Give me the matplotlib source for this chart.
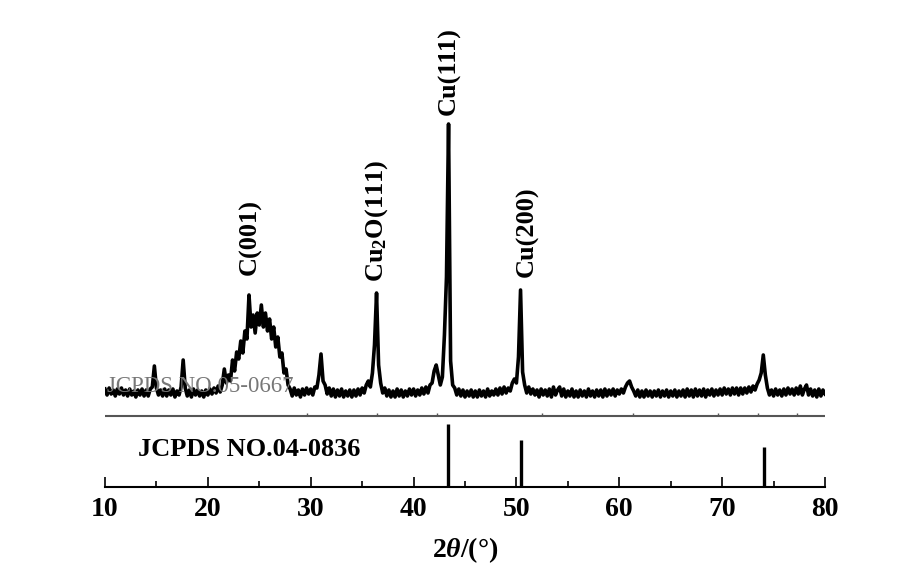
import numpy as np
import matplotlib
matplotlib.use('Agg')
import matplotlib.pyplot as plt
from matplotlib.ticker import MultipleLocator

plt.rcParams['font.family'] = ['Liberation Serif', 'DejaVu Serif']
plt.rcParams['mathtext.fontset'] = 'custom'
plt.rcParams['mathtext.rm'] = 'Liberation Serif:bold'
plt.rcParams['mathtext.it'] = 'Liberation Serif:italic:bold'
plt.rcParams['mathtext.bf'] = 'Liberation Serif:bold'

# measured pattern, 0.2 deg steps from 10 to 80 (intensity above baseline, a.u.)
two_theta = np.linspace(10, 80, 351)
intensity = [
    8, 2, 9, 3, 7, 1, 8, 3, 9, 2,          # 10
    7, 1, 8, 2, 6, 0, 7, 2, 8, 1,          # 12
    7, 1, 8, 10, 31, 9, 2, 7, 1, 8,        # 14
    1, 7, 2, 8, 0, 6, 2, 10, 37, 9,        # 16
    1, 7, 0, 8, 2, 7, 1, 6, 0, 7,          # 18
    2, 8, 3, 9, 4, 11, 5, 12, 28, 14,      # 20
    22, 16, 37, 26, 45, 38, 56, 44, 66, 58,  # 22
    102, 70, 82, 64, 84, 72, 92, 70, 84, 66,  # 24
    78, 58, 70, 50, 60, 40, 44, 24, 28, 12,  # 26
    8, 1, 9, 2, 7, 0, 8, 2, 9, 3,          # 28
    8, 2, 10, 9, 22, 43, 16, 12, 3, 9,     # 30
    1, 8, 0, 7, 1, 8, 0, 6, 1, 7,          # 32
    0, 7, 1, 8, 2, 9, 4, 12, 16, 10,       # 34
    24, 52, 104, 32, 14, 4, 9, 1, 7, 0,    # 36
    6, 0, 8, 1, 7, 0, 6, 1, 8, 2,          # 38
    8, 1, 7, 2, 9, 3, 10, 4, 12, 14,       # 40
    26, 32, 22, 12, 20, 62, 120, 273, 36, 12,  # 42
    9, 2, 8, 1, 7, 0, 6, 1, 7, 0,          # 44
    6, 0, 7, 1, 6, 0, 8, 1, 6, 2,          # 46
    8, 2, 9, 3, 10, 4, 9, 6, 14, 18,       # 48
    14, 40, 107, 25, 12, 4, 10, 3, 8, 2,   # 50
    7, 0, 8, 2, 7, 1, 8, 0, 10, 2,         # 52
    7, 10, 1, 8, 0, 6, 1, 8, 0, 6,         # 54
    0, 7, 1, 6, 0, 8, 1, 6, 0, 7,          # 56
    1, 7, 0, 8, 1, 7, 2, 8, 1, 7,          # 58
    3, 8, 4, 10, 14, 16, 10, 6, 1, 7,      # 60
    0, 6, 0, 7, 1, 6, 0, 6, 1, 7,          # 62
    0, 6, 1, 7, 0, 6, 1, 7, 0, 6,          # 64
    1, 7, 0, 8, 1, 7, 0, 8, 1, 7,          # 66
    1, 8, 0, 7, 2, 8, 1, 7, 2, 8,          # 68
    2, 9, 3, 8, 2, 9, 3, 9, 2, 9,          # 70
    3, 9, 4, 10, 5, 11, 7, 13, 17, 24,     # 72
    42, 22, 9, 2, 7, 1, 8, 2, 7, 1,        # 74
    8, 2, 9, 3, 8, 2, 9, 3, 11, 2,         # 76
    8, 12, 2, 8, 1, 7, 0, 8, 1, 7,         # 78
    3,                                     # 80
]
offset = 90  # baseline of the measured curve above the reference panel

# JCPDS 04-0836 (Cu) sticks
cu_pos = [43.3, 50.4, 74.1]
cu_int = [63, 47, 40]
# JCPDS 05-0667 (Cu2O) marks on the divider
cu2o_pos = [29.6, 36.4, 42.3, 52.5, 61.3, 69.6, 73.5, 77.3]
divider = 71

peak_labels = ['C(001)', 'Cu$_2$O(111)', 'Cu(111)', 'Cu(200)']
peak_label_x = [24.1, 36.45, 43.5, 51.0]
peak_label_y = [212, 205, 372, 210]

fig = plt.figure(figsize=(9.17, 5.74), dpi=100)
ax = fig.add_axes([105/917, 87/574, 720/917, 477/574])

ax.plot(two_theta, np.array(intensity) + offset, color='black', lw=2.6, zorder=2)
ax.vlines(cu_pos, 0, cu_int, color='black', lw=2.4)
ax.axhline(divider, color='#555555', lw=1.5)
ax.vlines(cu2o_pos, divider, divider + 3, color='#555555', lw=1.0)

for lab, x, y in zip(peak_labels, peak_label_x, peak_label_y):
    ax.text(x, y, lab, rotation=90, ha='center', va='bottom',
            fontsize=19, fontweight='bold')

ax.text(13.2, 37, 'JCPDS NO.04-0836', fontsize=19, fontweight='bold', va='center')
ax.text(10.2, 101, 'JCPDS NO.05-0667', fontsize=16.5, color='#777777',
        va='center', zorder=5)

ax.set_xlim(10, 80)
ax.set_ylim(0, 477)
for s in ['left', 'right', 'top']:
    ax.spines[s].set_visible(False)
ax.spines['bottom'].set_linewidth(1.5)
ax.set_yticks([])
ax.xaxis.set_major_locator(MultipleLocator(10))
ax.xaxis.set_minor_locator(MultipleLocator(5))
ax.tick_params(axis='x', which='major', direction='in', length=7, width=1.2,
               labelsize=20, pad=7)
ax.tick_params(axis='x', which='minor', direction='in', length=4, width=1.2)
for t in ax.get_xticklabels():
    t.set_fontweight('bold')
ax.set_xlabel(r'2$\theta$/(°)', fontsize=20, fontweight='bold', labelpad=10)

fig.savefig('out.png', dpi=100)
